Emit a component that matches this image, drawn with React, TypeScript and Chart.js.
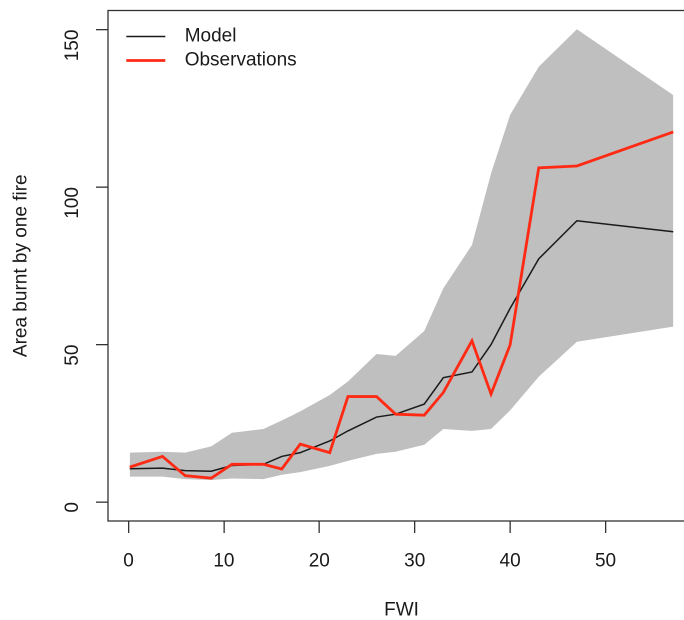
import React, { useEffect, useRef } from "react";
import { Chart, registerables } from "chart.js";

Chart.register(...registerables);

// FWI positions of the binned values
const fwi = [0.13, 3.56, 5.94, 8.67, 10.84, 14.15, 16.06, 18.0, 21.09, 23.0, 26.0, 28.0, 31.0, 33.0, 36.0, 38.0, 40.0, 43.0, 47.0, 57.1];
// Model mean
const model = [10.6, 10.8, 10.0, 9.8, 11.6, 12.0, 14.5, 15.7, 19.4, 22.6, 27.0, 27.9, 31.1, 39.5, 41.3, 50.0, 61.5, 77.2, 89.3, 85.8];
// Observed values
const observations = [11.1, 14.5, 8.4, 7.6, 12.0, 12.0, 10.5, 18.4, 15.7, 33.5, 33.5, 27.9, 27.6, 34.8, 51.2, 34.3, 49.9, 106.1, 106.7, 117.5];
// Model uncertainty envelope
const upperBound = [15.7, 16.0, 15.7, 17.7, 22.0, 23.2, 25.9, 28.8, 34.0, 38.3, 47.0, 46.4, 54.3, 67.9, 81.6, 104.3, 122.9, 138.2, 150.1, 129.2];
const lowerBound = [8.1, 8.1, 7.3, 7.0, 7.5, 7.3, 8.7, 9.5, 11.5, 13.1, 15.3, 16.0, 18.2, 23.2, 22.6, 23.2, 29.1, 39.8, 50.9, 55.7];

const xTicks = [0, 10, 20, 30, 40, 50];
const yTicks = [0, 50, 100, 150];

const FONT = "'Liberation Sans', Arial, Helvetica, sans-serif";
const TEXT = "#1a1a1a";
const AXIS = "#333333";

export default function App() {
  const ref = useRef<HTMLCanvasElement>(null);

  useEffect(() => {
    if (!ref.current) return;
    const pts = (ys: number[]) => fwi.map((x, i) => ({ x, y: ys[i] }));

    const framePlugin = {
      id: "frame",
      afterDatasetsDraw(chart: any) {
        const { ctx, chartArea: a } = chart;
        ctx.save();
        ctx.strokeStyle = AXIS;
        ctx.lineWidth = 1.3;
        ctx.strokeRect(a.left, a.top, a.right - a.left, a.bottom - a.top);
        ctx.restore();
      },
    };

    const legendPlugin = {
      id: "rlegend",
      afterDraw(chart: any) {
        const { ctx, chartArea: a } = chart;
        const items = [chart.data.datasets[2], chart.data.datasets[3]];
        ctx.save();
        items.forEach((ds: any, i: number) => {
          const y = a.top + 26 + i * 24;
          ctx.strokeStyle = ds.borderColor;
          ctx.lineWidth = ds.borderWidth;
          ctx.beginPath();
          ctx.moveTo(a.left + 18.3, y);
          ctx.lineTo(a.left + 57.3, y);
          ctx.stroke();
          ctx.fillStyle = TEXT;
          ctx.font = `19px ${FONT}`;
          ctx.textBaseline = "middle";
          ctx.textAlign = "left";
          ctx.fillText(ds.label, a.left + 76.7, y);
        });
        ctx.restore();
      },
    };

    const tickGrid = {
      display: true,
      drawOnChartArea: false,
      drawTicks: true,
      tickLength: 12,
      color: AXIS,
      lineWidth: 1.3,
    };

    const chart = new Chart(ref.current, {
      type: "line",
      data: {
        datasets: [
          {
            label: "upper",
            data: pts(upperBound),
            fill: "+1",
            backgroundColor: "#bfbfbf",
            borderColor: "transparent",
            borderWidth: 0,
            pointRadius: 0,
            tension: 0,
            order: 3,
          },
          {
            label: "lower",
            data: pts(lowerBound),
            fill: false,
            backgroundColor: "#bfbfbf",
            borderColor: "transparent",
            borderWidth: 0,
            pointRadius: 0,
            tension: 0,
            order: 4,
          },
          {
            label: "Model",
            data: pts(model),
            fill: false,
            borderColor: "#1a1a1a",
            borderWidth: 1.5,
            pointRadius: 0,
            tension: 0,
            order: 1,
          },
          {
            label: "Observations",
            data: pts(observations),
            fill: false,
            borderColor: "#ff2a14",
            borderWidth: 2.8,
            pointRadius: 0,
            tension: 0,
            order: 0,
          },
        ],
      },
      options: {
        animation: false,
        responsive: true,
        maintainAspectRatio: false,
        devicePixelRatio: 2,
        layout: { padding: { left: 0, top: 10.5, right: 5, bottom: 0 } },
        plugins: {
          legend: { display: false },
          title: { display: false },
          tooltip: { enabled: false },
          filler: { drawTime: "beforeDatasetsDraw" },
        },
        events: [],
        scales: {
          x: {
            type: "linear",
            min: -2.15,
            max: 59.38,
            afterBuildTicks: (s: any) => {
              s.ticks = xTicks.map((v) => ({ value: v }));
            },
            afterFit: (s: any) => {
              s.height = 99;
              s.paddingLeft = 0;
              s.paddingRight = 0;
            },
            grid: tickGrid,
            border: { display: false },
            ticks: {
              autoSkip: false,
              maxRotation: 0,
              minRotation: 0,
              padding: 17,
              color: TEXT,
              font: { family: FONT, size: 19, lineHeight: 1.2 },
            },
            title: {
              display: true,
              text: "FWI",
              color: TEXT,
              font: { family: FONT, size: 19, lineHeight: 1.05 },
              padding: { top: 0, bottom: 0 },
            },
          },
          y: {
            type: "linear",
            min: -6.0,
            max: 156.05,
            afterBuildTicks: (s: any) => {
              s.ticks = yTicks.map((v) => ({ value: v }));
            },
            afterFit: (s: any) => {
              s.width = 108;
              s.paddingTop = 0;
              s.paddingBottom = 0;
            },
            grid: tickGrid,
            border: { display: false },
            ticks: {
              autoSkip: false,
              minRotation: 90,
              maxRotation: 90,
              padding: 23,
              color: TEXT,
              font: { family: FONT, size: 19, lineHeight: 1.2 },
            },
            title: {
              display: true,
              text: "Area burnt by one fire",
              color: TEXT,
              font: { family: FONT, size: 19, lineHeight: 1.2 },
              padding: { top: 10, bottom: 0 },
            },
          },
        },
      },
      plugins: [framePlugin, legendPlugin],
    } as any);

    return () => chart.destroy();
  }, []);

  return (
    <div
      style={{
        position: "absolute",
        left: 0,
        top: 0,
        width: 684,
        height: 620,
        overflow: "hidden",
        background: "#ffffff",
      }}
    >
      <div style={{ position: "relative", width: 700, height: 620 }}>
        <canvas ref={ref} />
      </div>
    </div>
  );
}
